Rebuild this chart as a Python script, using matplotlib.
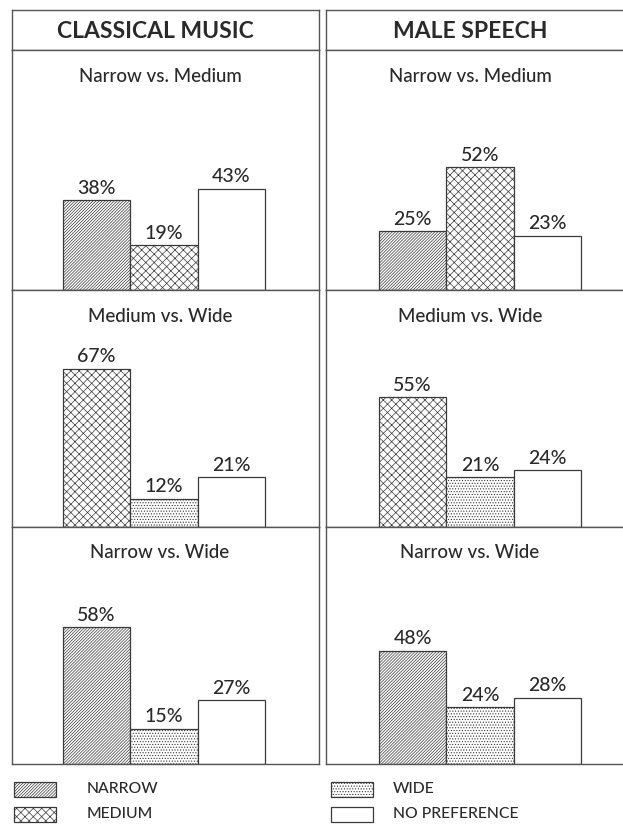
import matplotlib
matplotlib.use('Agg')
import matplotlib.pyplot as plt
from matplotlib.patches import Rectangle

plt.rcParams['font.family'] = ['Lato', 'DejaVu Sans']
plt.rcParams['hatch.linewidth'] = 0.5

# preference percentages, one list per comparison (first, second, no preference)
columns = ['CLASSICAL MUSIC', 'MALE SPEECH']
comparisons = ['Narrow vs. Medium', 'Medium vs. Wide', 'Narrow vs. Wide']
bar_kinds = [['NARROW', 'MEDIUM', 'NO PREFERENCE'],
             ['MEDIUM', 'WIDE', 'NO PREFERENCE'],
             ['NARROW', 'WIDE', 'NO PREFERENCE']]
music_narrow_medium = [38, 19, 43]
music_medium_wide = [67, 12, 21]
music_narrow_wide = [58, 15, 27]
speech_narrow_medium = [25, 52, 23]
speech_medium_wide = [55, 21, 24]
speech_narrow_wide = [48, 24, 28]
legend_left = ['NARROW', 'MEDIUM']
legend_right = ['WIDE', 'NO PREFERENCE']

values = [[music_narrow_medium, music_medium_wide, music_narrow_wide],
          [speech_narrow_medium, speech_medium_wide, speech_narrow_wide]]

hatches = {'NARROW': '/' * 11, 'MEDIUM': 'x' * 4, 'WIDE': '.' * 6, 'NO PREFERENCE': ''}
ink = '#2a2a2a'
line = '#555555'

W, H = 623, 827
fig = plt.figure(figsize=(W / 100, H / 100), dpi=100)


def px_axes(x0, y0, x1, y1):
    return fig.add_axes([x0 / W, 1 - y1 / H, (x1 - x0) / W, (y1 - y0) / H])


col_x = [(12, 319), (326, 640)]
bar_left = [63, 379]
title_cx = [160, 470]
head_cx = [155, 470]
row_y = [(50, 290), (290, 527), (527, 764)]
unit = 67.3      # px per bar
per_pct = 2.36   # px per percent

for c in range(2):
    x0, x1 = col_x[c]
    hax = px_axes(x0, 10, x1, 50)
    hax.set_xlim(x0, x1)
    hax.set_ylim(50, 10)
    hax.set_xticks([])
    hax.set_yticks([])
    for s in hax.spines.values():
        s.set_color(line)
        s.set_linewidth(1)
    hax.text(head_cx[c], 32, columns[c], ha='center', va='center',
             fontsize=16.5, fontweight='bold', color=ink)

    for r in range(3):
        y0, y1 = row_y[r]
        ax = px_axes(x0, y0, x1, y1)
        ax.set_xlim((x0 - bar_left[c]) / unit, (x1 - bar_left[c]) / unit)
        ax.set_ylim(0, (y1 - y0) / per_pct)
        ax.set_xticks([])
        ax.set_yticks([])
        for s in ax.spines.values():
            s.set_color(line)
            s.set_linewidth(1)
        vals = values[c][r]
        kinds = bar_kinds[r]
        for i, (v, k) in enumerate(zip(vals, kinds)):
            ax.bar(i, v, width=1, align='edge', facecolor='white',
                   edgecolor='#3a3a3a', linewidth=0.9, hatch=hatches[k])
            ax.annotate(f'{v}%', (i + 0.5, v), xytext=(0, 2.5),
                        textcoords='offset points', ha='center', va='bottom',
                        fontsize=14, fontweight='medium', color=ink)
        tx = (title_cx[c] - x0) / (x1 - x0)
        ax.text(tx, 1 - 26 / (y1 - y0), comparisons[r], transform=ax.transAxes,
                ha='center', va='center', fontsize=13.5, fontweight='medium',
                color=ink)

# legend keys
lax = fig.add_axes([0, 0, 1, 1])
lax.set_xlim(0, W)
lax.set_ylim(H, 0)
lax.axis('off')
for names, px, tx in [(legend_left, 14, 87), (legend_right, 331, 393)]:
    for j, name in enumerate(names):
        cy = 789 + j * 25
        lax.add_patch(Rectangle((px, cy - 7.5), 42, 15, facecolor='white',
                                edgecolor='#3a3a3a', linewidth=0.9,
                                hatch=hatches[name]))
        lax.text(tx, cy, name, ha='left', va='center', fontsize=11.3,
                 fontweight='medium', color=ink)

fig.savefig('out.png', dpi=100)
